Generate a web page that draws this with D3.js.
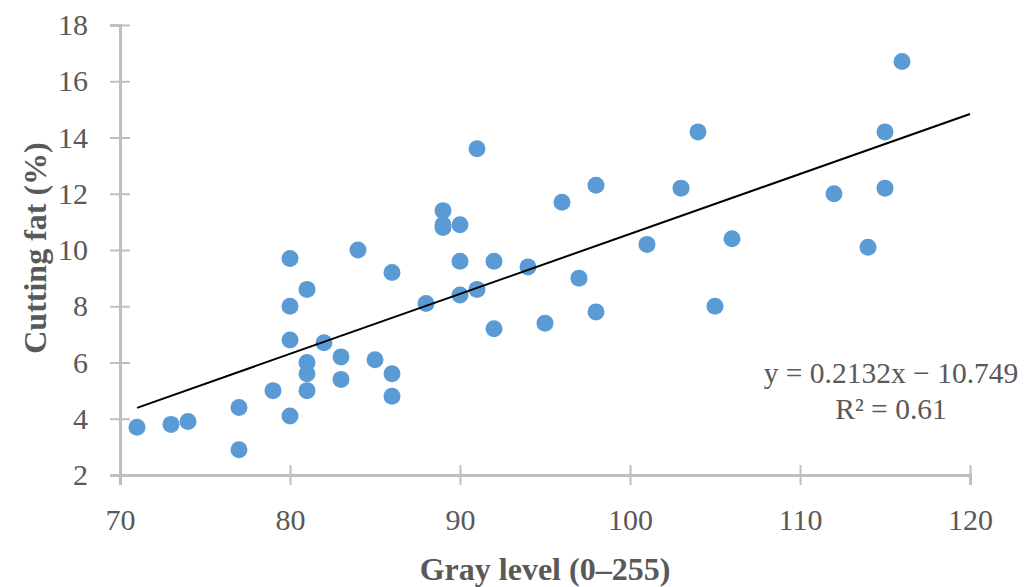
<!DOCTYPE html>
<html>
<head>
<meta charset="utf-8">
<script src="https://cdn.jsdelivr.net/npm/d3@7"></script>
<style>
  body { margin: 0; background: #fff; }
  svg text { font-family: "Palatino Linotype", "Book Antiqua", Palatino, "Liberation Serif", serif; fill: #595959; }
</style>
</head>
<body>
<div id="chart"></div>
<script>
// gray level (x) and cutting fat % (y)
const grayLevel = [71, 73, 74, 77, 77, 79, 80, 80, 80, 80, 81, 81, 81, 81, 82, 83, 83, 84, 85, 86, 86, 86, 88, 89, 89, 89,
  90, 90, 90, 91, 91, 92, 92, 94, 95, 96, 97, 98, 98, 101, 103, 104, 105, 106, 112, 114, 115, 115, 116];
const cuttingFat = [3.7, 3.8, 3.9, 4.4, 2.9, 5.0, 4.1, 9.7, 8.0, 6.8, 8.6, 6.0, 5.6, 5.0, 6.7, 6.2, 5.4, 10.0, 6.1, 9.2, 5.6, 4.8, 8.1, 11.4, 10.8, 10.9,
  10.9, 9.6, 8.4, 13.6, 8.6, 9.6, 7.2, 9.4, 7.4, 11.7, 9.0, 12.3, 7.8, 10.2, 12.2, 14.2, 8.0, 10.4, 12.0, 10.1, 14.2, 12.2, 16.7];
const xTicks = [70, 80, 90, 100, 110, 120];
const yTicks = [2, 4, 6, 8, 10, 12, 14, 16, 18];
const trendSlope = 0.2132;
const trendIntercept = -10.749;
const trendLabel = "y = 0.2132x \u2212 10.749";
const r2Label = "R\u00B2 = 0.61";
const xTitle = "Gray level (0\u2013255)";
const yTitle = "Cutting fat (%)";

const w = 1033;
const h = 587;
const margin = { left: 120, right: 63, top: 25, bottom: 112 };

const svg = d3.select("#chart")
  .append("svg")
  .attr("width", w)
  .attr("height", h);

const xScale = d3.scaleLinear()
  .domain([70, 120])
  .range([margin.left, w - margin.right]);

const yScale = d3.scaleLinear()
  .domain([2, 18])
  .range([h - margin.bottom, margin.top]);

const axisColor = "#bfbfbf";

// y axis
const yAxis = svg.append("g")
  .attr("transform", "translate(" + margin.left + ",0)")
  .call(d3.axisLeft(yScale).tickValues(yTicks).tickSize(10).tickPadding(22));
// x axis
const xAxis = svg.append("g")
  .attr("transform", "translate(0," + (h - margin.bottom) + ")")
  .call(d3.axisBottom(xScale).tickValues(xTicks).tickSize(10).tickPadding(24));

[yAxis, xAxis].forEach((g) => {
  g.select(".domain").attr("stroke", axisColor).attr("stroke-width", 3);
  g.selectAll(".tick line").attr("stroke", axisColor).attr("stroke-width", 2);
  g.selectAll(".tick text")
    .attr("fill", "#595959")
    .style("font-size", "30px");
});
// ticks cross the axis line
yAxis.selectAll(".tick line").attr("x1", 10).attr("x2", -10);
xAxis.selectAll(".tick line").attr("y1", -10).attr("y2", 10);

// points
svg.append("g")
  .selectAll("circle")
  .data(grayLevel.map((g, i) => [g, cuttingFat[i]]))
  .enter()
  .append("circle")
  .attr("cx", (d) => xScale(d[0]))
  .attr("cy", (d) => yScale(d[1]))
  .attr("r", 8.5)
  .attr("fill", "#5b9bd5");

// linear trend line
const x0 = d3.min(grayLevel);
const x1 = 120;
svg.append("line")
  .attr("x1", xScale(x0))
  .attr("y1", yScale(trendSlope * x0 + trendIntercept))
  .attr("x2", xScale(x1))
  .attr("y2", yScale(trendSlope * x1 + trendIntercept))
  .attr("stroke", "#000")
  .attr("stroke-width", 2);

// equation
svg.append("text")
  .attr("x", 891)
  .attr("y", 383)
  .attr("text-anchor", "middle")
  .style("font-size", "29.5px")
  .text(trendLabel);
svg.append("text")
  .attr("x", 891)
  .attr("y", 419)
  .attr("text-anchor", "middle")
  .style("font-size", "29.5px")
  .text(r2Label);

// axis titles
svg.append("text")
  .attr("x", xScale(95))
  .attr("y", 580)
  .attr("text-anchor", "middle")
  .style("font-size", "32px")
  .style("font-weight", "bold")
  .text(xTitle);

svg.append("text")
  .attr("transform", "translate(46," + (yScale(10) - 2) + ") rotate(-90)")
  .attr("text-anchor", "middle")
  .style("font-size", "32px")
  .style("font-weight", "bold")
  .text(yTitle);
</script>
</body>
</html>
